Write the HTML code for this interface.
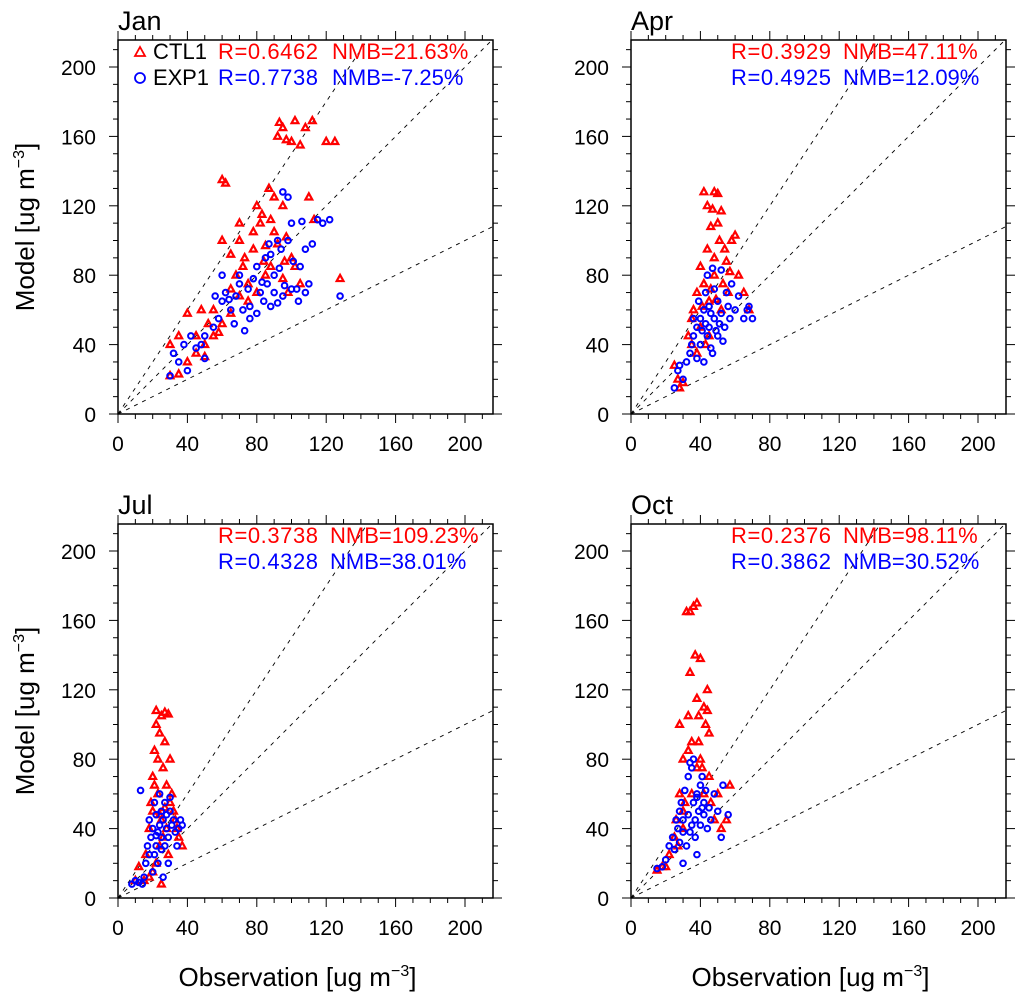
<!DOCTYPE html>
<html><head><meta charset="utf-8"><style>
body{margin:0;background:#fff}
svg{display:block;font-family:"Liberation Sans",sans-serif}
</style></head><body>
<svg id="c" width="1015" height="995" viewBox="0 0 1015 995" xmlns="http://www.w3.org/2000/svg"></svg>
<script>
const months = ["Jan","Apr","Jul","Oct"];
const xTicks = [0,40,80,120,160,200];
const yTicks = [0,40,80,120,160,200];
const refSlopes = [1.5,1,0.5];
const seriesNames = ["CTL1","EXP1"];
const statR_ctl = ["0.6462","0.3929","0.3738","0.2376"];
const statNMB_ctl = ["21.63%","47.11%","109.23%","98.11%"];
const statR_exp = ["0.7738","0.4925","0.4328","0.3862"];
const statNMB_exp = ["-7.25%","12.09%","38.01%","30.52%"];
const janCtl = [[30,40],[35,45],[40,58],[45,45],[50,33],[55,60],[58,47],[60,135],[62,133],[65,92],[68,80],[70,100],[72,85],[75,75],[78,95],[80,120],[82,110],[85,97],[88,112],[90,105],[92,160],[93,168],[95,165],[97,158],[100,157],[102,169],[105,155],[108,165],[112,169],[120,157],[125,157],[95,120],[90,125],[88,85],[85,80],[80,70],[75,65],[70,68],[65,58],[60,52],[55,45],[50,40],[45,35],[40,30],[35,23],[30,22],[110,125],[113,112],[100,90],[95,78],[98,70],[102,85],[105,75],[65,72],[73,90],[78,105],[83,115],[92,98],[96,88],[128,78],[52,52],[48,60],[70,110],[60,100],[87,130],[97,102],[84,88]];
const janExp = [[30,22],[32,35],[35,30],[38,40],[40,25],[42,45],[45,38],[48,40],[50,32],[50,45],[55,50],[58,55],[60,65],[62,70],[65,60],[67,52],[68,68],[70,75],[72,60],[75,72],[76,62],[78,78],[80,85],[82,70],[84,65],[85,90],[86,75],[88,92],[90,80],[90,70],[92,100],[94,95],[95,68],[96,74],[98,100],[100,110],[101,88],[103,72],[104,65],[106,111],[108,95],[110,75],[112,98],[118,110],[122,112],[98,125],[95,128],[115,112],[105,85],[88,62],[80,58],[76,55],[73,48],[70,80],[64,66],[92,64],[100,72],[108,70],[128,68],[60,80],[56,68],[83,76],[93,84],[87,98]];
const aprCtl = [[25,28],[27,20],[28,15],[30,18],[33,45],[35,55],[36,60],[38,70],[40,50],[40,85],[42,75],[42,128],[44,120],[44,95],[45,65],[46,108],[47,118],[48,128],[48,80],[50,127],[50,110],[51,100],[52,117],[52,60],[54,95],[55,88],[56,70],[58,100],[60,103],[62,80],[65,70],[68,60],[45,45],[43,40],[38,35],[35,40],[48,90],[53,75],[57,82],[41,62],[46,72],[49,66]];
const aprExp = [[25,15],[27,25],[28,28],[30,20],[32,30],[34,35],[35,40],[36,45],[38,50],[38,32],[40,55],[40,40],[42,60],[42,30],[43,70],[44,80],[45,50],[45,62],[46,38],[47,84],[48,55],[48,72],[50,45],[50,65],[52,83],[52,58],[54,50],[55,70],[56,62],[57,55],[58,75],[60,60],[62,68],[65,55],[67,60],[68,62],[70,55],[44,45],[41,48],[39,65],[47,35],[53,42],[36,55],[43,52],[49,48],[51,52],[46,58]];
const julCtl = [[10,10],[12,18],[15,10],[16,25],[18,40],[19,55],[20,70],[20,50],[21,85],[22,100],[22,108],[23,60],[24,95],[24,30],[25,105],[25,45],[26,75],[27,90],[27,107],[28,65],[28,40],[29,106],[30,80],[30,55],[31,60],[32,50],[33,45],[34,40],[35,35],[37,30],[22,20],[20,15],[18,12],[26,35],[23,80],[21,65],[29,25],[25,8],[24,48],[27,52]];
const julExp = [[8,8],[10,10],[12,9],[14,8],[15,12],[16,20],[17,30],[18,25],[18,45],[19,35],[20,40],[20,15],[21,55],[22,30],[22,48],[23,38],[23,20],[24,42],[24,60],[25,35],[25,50],[26,45],[27,30],[27,55],[28,40],[28,48],[29,35],[30,50],[30,58],[31,42],[32,45],[33,38],[34,30],[35,40],[36,45],[37,42],[13,62],[21,25],[26,12],[29,20],[22,36],[25,28]];
const octCtl = [[15,16],[18,18],[20,18],[22,25],[25,35],[26,45],[28,60],[28,100],[30,50],[30,80],[31,55],[32,165],[33,105],[34,130],[34,165],[35,90],[35,60],[36,168],[37,140],[38,170],[38,115],[39,105],[40,138],[40,80],[41,75],[42,110],[42,60],[43,100],[44,108],[45,95],[46,55],[48,45],[50,60],[52,40],[55,45],[57,65],[30,40],[27,30],[38,75],[45,70],[44,120],[39,90],[33,85]];
const octExp = [[15,17],[18,18],[20,22],[22,30],[24,35],[25,28],[26,45],[27,40],[28,50],[28,32],[29,55],[30,38],[30,45],[31,62],[32,30],[33,70],[33,48],[34,38],[35,75],[35,42],[36,55],[36,80],[37,45],[37,35],[38,60],[38,25],[39,50],[40,65],[40,42],[41,70],[42,48],[42,55],[43,62],[44,40],[45,52],[46,45],[48,60],[50,50],[52,35],[53,65],[56,48],[30,20],[34,78],[38,58],[41,52]];
const ctlData = [janCtl,aprCtl,julCtl,octCtl];
const expData = [janExp,aprExp,julExp,octExp];

const NS="http://www.w3.org/2000/svg";
const svg=document.getElementById('c');
function mk(tag,attrs,parent){const e=document.createElementNS(NS,tag);for(const k in attrs)e.setAttribute(k,attrs[k]);(parent||svg).appendChild(e);return e;}
const W=375,H=374,S=1.735,MAXV=216;
const origins=[[118,40],[631,40],[118,524],[631,524]];
months.forEach((m,i)=>{
  const [L,T]=origins[i];
  const B=T+H;
  const sx=v=>L+v*S, sy=v=>B-v*S;
  const g=mk('g',{});
  
  
  const cp=mk('clipPath',{id:'cp'+i},g);mk('rect',{x:L,y:T,width:W,height:H},cp);
  refSlopes.forEach(k=>{
    const xe=Math.min(MAXV,MAXV/k);
    const ln=mk('line',{x1:sx(0),y1:sy(0),x2:sx(xe),y2:sy(xe*k),stroke:'#000','stroke-width':0.9,'stroke-dasharray':'4 5','clip-path':'url(#cp'+i+')'},g);
    
    
  });
  const pg=mk('g',{'clip-path':'url(#cp'+i+')'},g);
  ctlData[i].forEach(p=>{
    const x=sx(p[0]),y=sy(p[1]);
    const t=mk('polygon',{points:`${x},${y-3.8} ${x-3.4},${y+2.4} ${x+3.4},${y+2.4}`,fill:'none',stroke:'#f00','stroke-width':2.2},pg);
    
    
  });
  expData[i].forEach(p=>{
    const c=mk('circle',{cx:sx(p[0]),cy:sy(p[1]),r:2.8,fill:'none',stroke:'#00f','stroke-width':2},pg);
    
    
  });
  const fr=mk('rect',{x:L,y:T,width:W,height:H,fill:'none',stroke:'#000','stroke-width':1.5},g);
  
  
  for(let v=0;v<=MAXV;v+=10){
    const maj=v%40===0, len=maj?9:5;
    mk('line',{x1:sx(v),y1:B,x2:sx(v),y2:B+len,stroke:'#000','stroke-width':1},g);
    mk('line',{x1:sx(v),y1:T,x2:sx(v),y2:T-len,stroke:'#000','stroke-width':1},g);
    mk('line',{x1:L,y1:sy(v),x2:L-len,y2:sy(v),stroke:'#000','stroke-width':1},g);
    mk('line',{x1:L+W,y1:sy(v),x2:L+W+len,y2:sy(v),stroke:'#000','stroke-width':1},g);
  }
  xTicks.forEach(v=>{const t=mk('text',{x:sx(v),y:B+37,'font-size':21,'text-anchor':'middle'},g);t.textContent=v;
    });
  yTicks.forEach(v=>{const t=mk('text',{x:L-22,y:sy(v)+8,'font-size':21,'text-anchor':'end'},g);t.textContent=v;
    });
  const ti=mk('text',{x:L,y:T-10,'font-size':27},g);ti.textContent=m;
  
  const fs=22;
  if(i===0){
    mk('polygon',{points:`${L+22},${T+7} ${L+17},${T+16} ${L+27},${T+16}`,fill:'none',stroke:'#f00','stroke-width':1.8},g);
    mk('circle',{cx:L+22,cy:T+38,r:5,fill:'none',stroke:'#00f','stroke-width':1.8},g);
    const a=mk('text',{x:L+35,y:T+19,'font-size':fs,textLength:54},g);a.textContent=seriesNames[0];
    
    const b=mk('text',{x:L+35,y:T+45,'font-size':fs,textLength:56},g);b.textContent=seriesNames[1];
    
  }
  const rx=L+100, nx=i===0?L+214:L+212;
  [[statR_ctl,statNMB_ctl,'#f00',19],[statR_exp,statNMB_exp,'#00f',45]].forEach(([rr,nn,col,dy],k)=>{
    const t1=mk('text',{x:rx,y:T+dy,'font-size':fs,fill:col,textLength:100},g);t1.textContent='R='+rr[i];
    
    const t2=mk('text',{x:nx,y:T+dy,'font-size':fs,fill:col},g);t2.textContent='NMB='+nn[i];
    
  });
  if(i%2===0){
    const yt=mk('text',{x:0,y:0,'font-size':26,'text-anchor':'middle',transform:`translate(34,${T+H/2}) rotate(-90)`},g);
    yt.innerHTML='Model [ug m<tspan dy="-10" font-size="16">−3</tspan><tspan dy="10">]</tspan>';
    
  }
  if(i>=2){
    const xt=mk('text',{x:L+W/2-8,y:986,'font-size':26,'text-anchor':'middle'},g);
    xt.innerHTML='Observation [ug m<tspan dy="-10" font-size="16">−3</tspan><tspan dy="10">]</tspan>';
    
  }
});
</script>
</body></html>
